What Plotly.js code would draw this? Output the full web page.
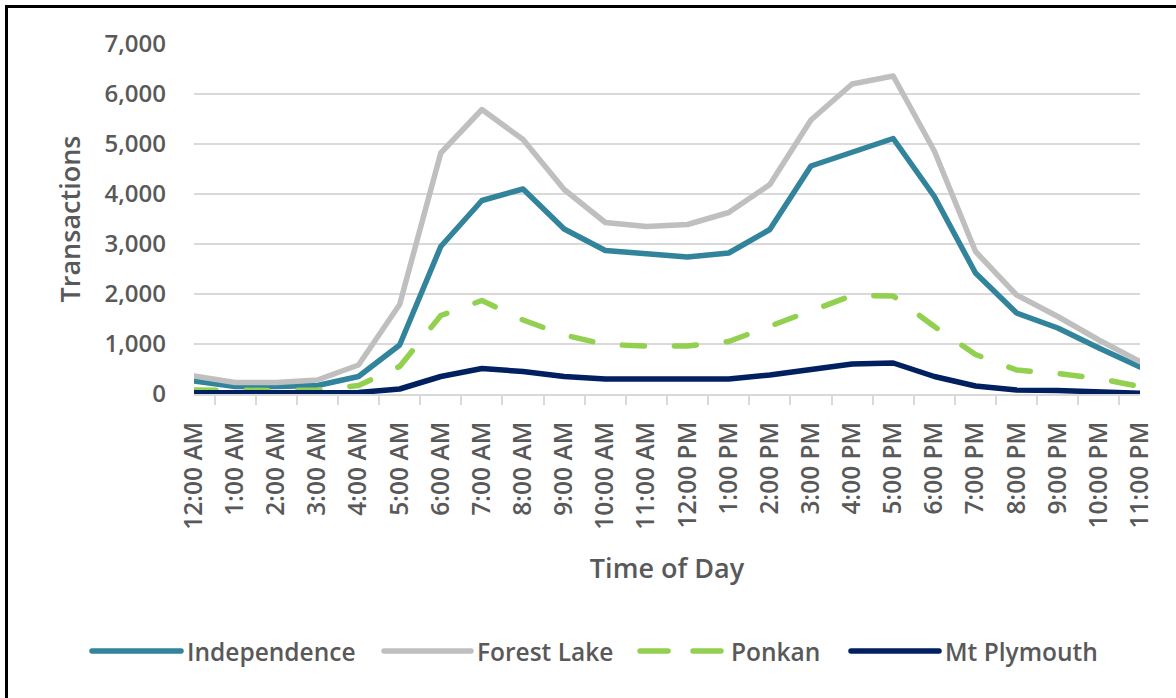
<!DOCTYPE html>
<html>
<head>
<meta charset="utf-8">
<script src="https://cdn.plot.ly/plotly-3.0.1.min.js"></script>
<style>
  html, body { margin: 0; padding: 0; background: #fff; overflow: hidden; }
  #chart { width: 1176px; height: 698px; }
  #frame { position: absolute; left: 5px; top: 5px; width: 1200px; height: 690px;
           border-left: 3px solid #000; border-top: 3px solid #000; border-bottom: 1px solid #e0e0e0;
           pointer-events: none; }
  .scatterlayer .js-line { stroke-linecap: round; stroke-linejoin: round; }
  .shapelayer path { stroke-linecap: round; }
</style>
</head>
<body>
<div id="chart"></div>
<div id="frame"></div>
<script>
const hours = ['12:00 AM','1:00 AM','2:00 AM','3:00 AM','4:00 AM','5:00 AM','6:00 AM','7:00 AM','8:00 AM','9:00 AM','10:00 AM','11:00 AM',
               '12:00 PM','1:00 PM','2:00 PM','3:00 PM','4:00 PM','5:00 PM','6:00 PM','7:00 PM','8:00 PM','9:00 PM','10:00 PM','11:00 PM'];
const seriesNames = ['Independence', 'Forest Lake', 'Ponkan', 'Mt Plymouth'];
const independence = [260, 150, 150, 170, 350, 980, 2950, 3870, 4100, 3300, 2870, 2800, 2740, 2820, 3290, 4560, 4830, 5110, 3950, 2420, 1620, 1320, 920, 540];
const forestLake   = [360, 230, 230, 280, 580, 1790, 4820, 5690, 5090, 4090, 3430, 3350, 3390, 3630, 4190, 5480, 6200, 6360, 4860, 2850, 1980, 1550, 1080, 650];
const ponkan       = [80, 70, 70, 80, 170, 550, 1570, 1870, 1480, 1180, 990, 960, 960, 1050, 1350, 1650, 1970, 1960, 1350, 790, 480, 410, 310, 150];
const mtPlymouth   = [25, 25, 25, 25, 30, 100, 350, 510, 450, 350, 300, 300, 300, 300, 380, 490, 600, 620, 350, 160, 80, 70, 50, 15];
const yTicks = [0, 1000, 2000, 3000, 4000, 5000, 6000, 7000];

const colors = ['#31849b', '#bfbfbf', '#92d050', '#002060'];
const dashes = ['solid', 'solid', '22px,30px', 'solid'];
const values = [independence, forestLake, ponkan, mtPlymouth];

const FONT = '"Open Sans", sans-serif';
const TXT = '#595959';

const traces = values.map((v, i) => ({
  type: 'scatter', mode: 'lines', x: hours, y: v, name: seriesNames[i],
  line: { color: colors[i], width: 5.5, dash: dashes[i] },
  showlegend: false
}));

// custom legend (long line samples like the source)
const L = 194, W = 946, T = 44, H = 350;
const px = x => (x - L) / W;
const py = y => (394 - y) / H;
const legStart = [92, 384, 640, 851];
const legEnd = [181, 471, 725, 939];
const legY = 651;
const shapes = seriesNames.map((n, i) => ({
  type: 'line', xref: 'paper', yref: 'paper',
  x0: px(legStart[i]), x1: px(legEnd[i]), y0: py(legY), y1: py(legY),
  line: { color: colors[i], width: 5.5, dash: i === 2 ? '28px,25px' : 'solid' }
}));
const annotations = seriesNames.map((n, i) => ({
  xref: 'paper', yref: 'paper', x: px(legEnd[i] + 4), y: py(legY),
  xanchor: 'left', yanchor: 'middle', showarrow: false, text: n,
  font: { family: FONT, size: 24.5, color: TXT, weight: 600 }
}));

const layout = {
  width: 1176, height: 698,
  margin: { l: L, r: 1176 - L - W, t: T, b: 698 - T - H },
  paper_bgcolor: '#fff', plot_bgcolor: '#fff',
  font: { family: FONT, color: TXT, size: 24, weight: 600 },
  showlegend: false,
  xaxis: {
    type: 'category', tickangle: -90, tickson: 'boundaries',
    ticks: 'outside', ticklen: 9, tickwidth: 2, tickcolor: '#d9d9d9',
    showline: true, linecolor: '#d9d9d9', linewidth: 2,
    showgrid: false, zeroline: false,
    tickfont: { family: FONT, size: 24.5, color: TXT, weight: 600 },
    ticklabelstandoff: 16,
    title: { text: 'Time of Day', font: { family: FONT, size: 27, color: TXT, weight: 600 }, standoff: 30 },
    automargin: false
  },
  yaxis: {
    range: [0, 7000], tickvals: yTicks, tickformat: ',d',
    showgrid: true, gridcolor: '#d9d9d9', gridwidth: 2,
    zeroline: false, showline: false, ticks: '',
    tickfont: { family: FONT, size: 24, color: TXT, weight: 600 },
    ticklabelstandoff: 27,
    title: { text: 'Transactions', font: { family: FONT, size: 27, color: TXT, weight: 600 }, standoff: 16 },
    automargin: false
  },
  shapes: shapes,
  annotations: annotations
};

Plotly.newPlot('chart', traces, layout, { displayModeBar: false, staticPlot: true });
</script>
</body>
</html>
